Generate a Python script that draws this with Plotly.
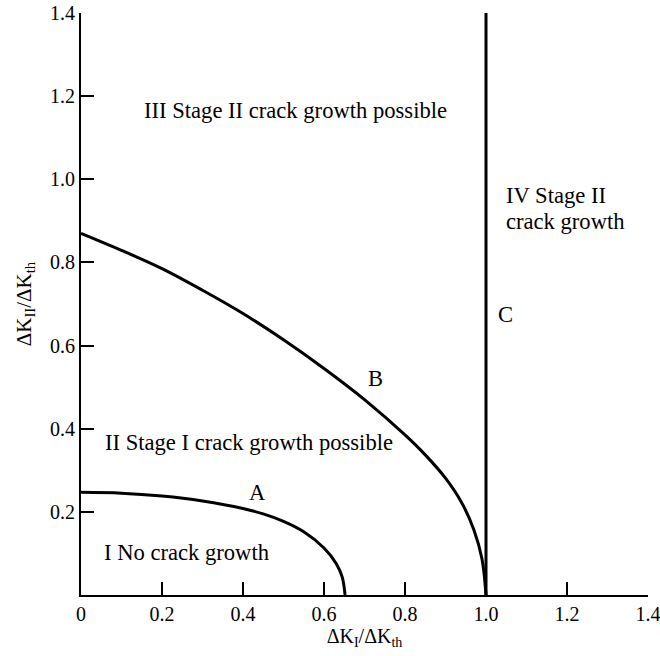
import plotly.graph_objects as go

# Curve B (Stage I / Stage II boundary)
b_x = [0, 0.1, 0.2, 0.3, 0.4, 0.5, 0.6, 0.7, 0.8, 0.85, 0.9, 0.94, 0.97, 0.99, 1.0]
b_y = [0.87, 0.829, 0.785, 0.733, 0.677, 0.614, 0.545, 0.47, 0.385, 0.337, 0.281, 0.222, 0.157, 0.087, 0.0]

# Curve A (no growth boundary)
a_x = [0, 0.1, 0.2, 0.3, 0.4, 0.45, 0.5, 0.55, 0.6, 0.63, 0.645, 0.652]
a_y = [0.247, 0.245, 0.238, 0.226, 0.208, 0.195, 0.177, 0.152, 0.113, 0.076, 0.043, 0.0]

# Line C
c_x = [1.0, 1.0]
c_y = [0.0, 1.4]

x_ticks = [0, 0.2, 0.4, 0.6, 0.8, 1.0, 1.2, 1.4]
x_tick_labels = ["0", "0.2", "0.4", "0.6", "0.8", "1.0", "1.2", "1.4"]
y_ticks = [0.2, 0.4, 0.6, 0.8, 1.0, 1.2, 1.4]
y_tick_labels = ["0.2", "0.4", "0.6", "0.8", "1.0", "1.2", "1.4"]

region_labels = [
    ("III Stage II crack growth possible", 0.151, 1.165, "left"),
    ("II Stage I crack growth possible", 0.054, 0.367, "left"),
    ("I No crack growth", 0.052, 0.103, "left"),
    ("IV Stage II", 1.044, 0.962, "left"),
    ("crack growth", 1.044, 0.899, "left"),
    ("A", 0.435, 0.247, "center"),
    ("B", 0.726, 0.521, "center"),
    ("C", 1.047, 0.675, "center"),
]

FONT = "Liberation Serif"
line_style = dict(color="black", width=3)

fig = go.Figure()
fig.add_trace(go.Scatter(x=b_x, y=b_y, mode="lines",
                         line=dict(line_style, shape="spline", smoothing=1.0), hoverinfo="skip"))
fig.add_trace(go.Scatter(x=a_x, y=a_y, mode="lines",
                         line=dict(line_style, shape="spline", smoothing=1.0), hoverinfo="skip"))
fig.add_trace(go.Scatter(x=c_x, y=c_y, mode="lines", line=line_style, hoverinfo="skip"))

for text, x, y, anchor in region_labels:
    fig.add_annotation(x=x, y=y, text=text, showarrow=False, xanchor=anchor, yanchor="middle",
                       font=dict(family=FONT, size=22.6, color="black"))

fig.update_layout(
    width=660, height=656,
    margin=dict(l=81, r=12, t=13, b=61, autoexpand=False),
    paper_bgcolor="white", plot_bgcolor="white",
    showlegend=False,
    font=dict(family=FONT, color="black"),
)
fig.update_xaxes(
    range=[0, 1.4], tickvals=x_ticks, ticktext=x_tick_labels, ticklabeloverflow="allow",
    automargin=False,
    showgrid=False, zeroline=False, showline=True, linecolor="black", linewidth=2,
    ticks="inside", ticklen=13, tickwidth=1.5, tickcolor="black",
    tickfont=dict(family=FONT, size=20, color="black"),
    title=dict(text="ΔK<sub>I</sub>/ΔK<sub>th</sub>", font=dict(family=FONT, size=20, color="black"), standoff=4),
)
fig.update_yaxes(
    range=[0, 1.4], tickvals=y_ticks, ticktext=y_tick_labels, ticklabeloverflow="allow",
    automargin=False,
    showgrid=False, zeroline=False, showline=True, linecolor="black", linewidth=2,
    ticks="inside", ticklen=13, tickwidth=1.5, tickcolor="black",
    tickfont=dict(family=FONT, size=20, color="black"),
    title=dict(text="ΔK<sub>II</sub>/ΔK<sub>th</sub>", font=dict(family=FONT, size=21, color="black"), standoff=13),
)

fig.write_html("out.html")
